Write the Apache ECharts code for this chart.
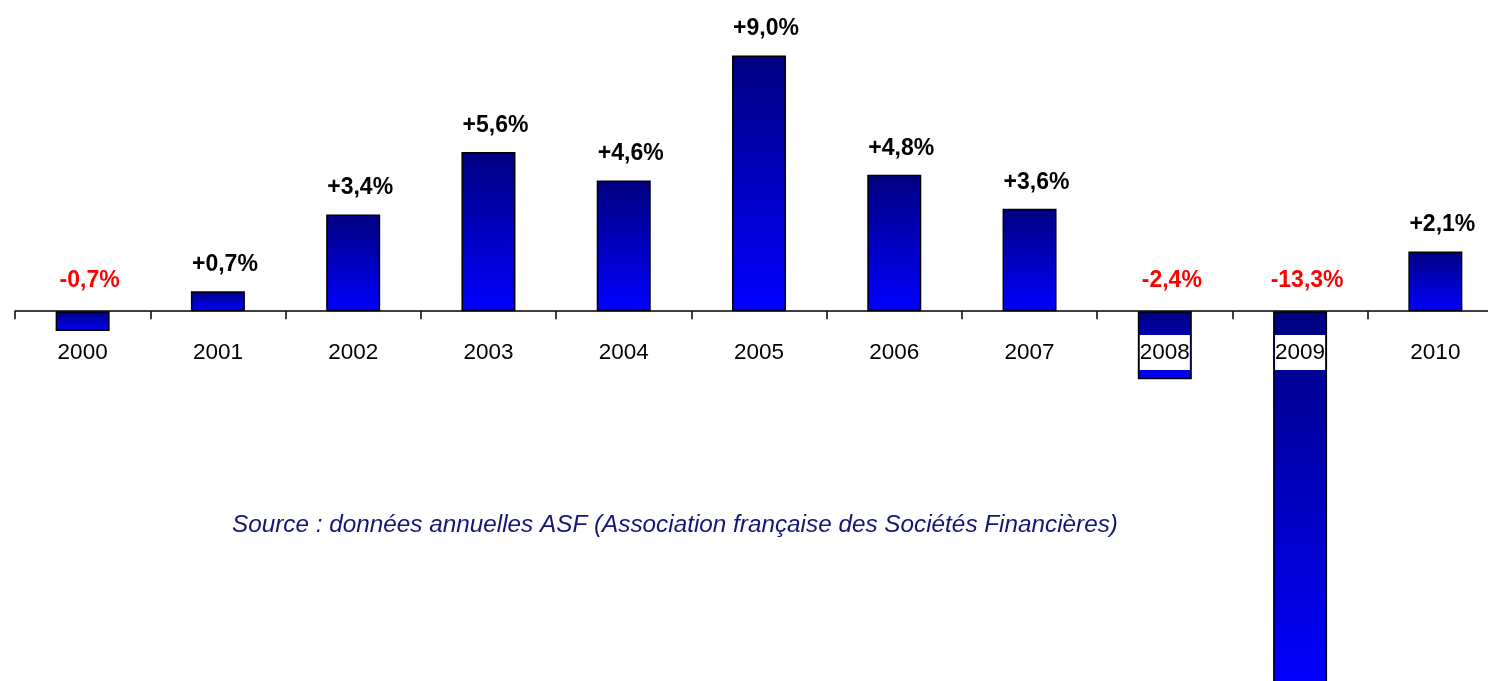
<!DOCTYPE html>
<html>
<head>
<meta charset="utf-8">
<script src="https://cdn.jsdelivr.net/npm/echarts@6/dist/echarts.min.js"></script>
<style>
  html, body { margin: 0; padding: 0; background: #fff; }
  #chart { width: 1488px; height: 681px; }
</style>
</head>
<body>
<div id="chart"></div>
<script>
// données annuelles (variation en %)
var years = ['2000', '2001', '2002', '2003', '2004', '2005', '2006', '2007', '2008', '2009', '2010'];
var growth = [-0.7, 0.7, 3.4, 5.6, 4.6, 9.0, 4.8, 3.6, -2.4, -13.3, 2.1];
var sourceText = 'Source : données annuelles ASF (Association française des Sociétés Financières)';

var font = '"Liberation Sans", Arial, sans-serif';

var chart = echarts.init(document.getElementById('chart'));

function fmt(v) {
  var s = Math.abs(v).toFixed(1).replace('.', ',');
  return (v < 0 ? '-' : '+') + s + '%';
}

var barFill = new echarts.graphic.LinearGradient(0, 0, 0, 1, [
  { offset: 0, color: '#000080' },
  { offset: 1, color: '#0000ff' }
]);

var seriesData = growth.map(function (v) {
  var item = { value: v };
  if (v < 0) {
    item.label = { color: '#ff0000', position: 'top', distance: 19 };
  }
  return item;
});

chart.setOption({
  animation: false,
  backgroundColor: '#fff',
  grid: { left: 15, right: -15, top: 27, height: 682, outerBoundsMode: 'none' },
  xAxis: [{
    type: 'category',
    data: years,
    axisLine: { onZero: true, lineStyle: { color: '#000', width: 1.5 } },
    axisTick: { show: true, length: 8, lineStyle: { color: '#000', width: 1.5 } },
    axisLabel: { show: false },
    z: 5
  }, {
    // libellés des années, placés sous la ligne du zéro
    type: 'category',
    data: years,
    position: 'bottom',
    offset: -398,
    axisLine: { show: false },
    axisTick: { show: false },
    axisLabel: {
      color: '#000',
      fontFamily: font,
      fontSize: 22.5,
      margin: 24,
      backgroundColor: '#fff',
      padding: [6, 0]
    },
    z: 6
  }],
  yAxis: {
    type: 'value',
    min: -14,
    max: 10,
    show: false,
    splitLine: { show: false }
  },
  series: [{
    type: 'bar',
    data: seriesData,
    barWidth: 54,
    itemStyle: { color: barFill, borderColor: '#000', borderWidth: 1.5 },
    label: {
      show: true,
      position: 'top',
      distance: 15,
      offset: [7, 0],
      color: '#000',
      fontFamily: font,
      fontWeight: 'bold',
      fontSize: 23,
      formatter: function (p) { return fmt(p.value); }
    }
  }],
  graphic: [{
    type: 'text',
    left: 232,
    top: 513,
    style: {
      text: sourceText,
      fill: '#14147a',
      font: 'italic 24.3px "Liberation Sans", Arial, sans-serif'
    }
  }]
});
</script>
</body>
</html>
